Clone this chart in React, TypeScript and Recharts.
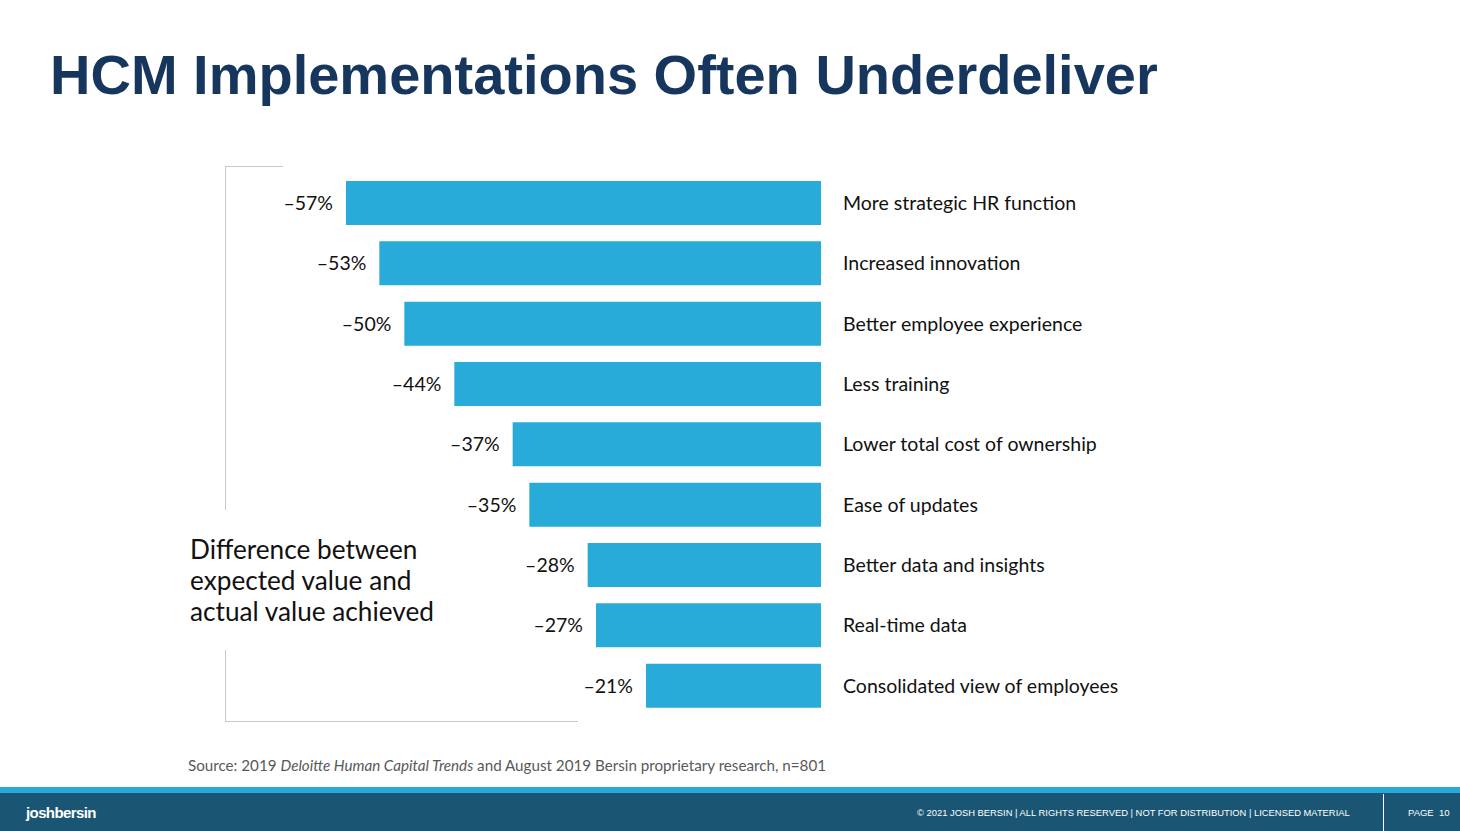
// @ts-nocheck
import { BarChart, Bar, XAxis, YAxis, LabelList } from 'recharts';

const categories = [
  'More strategic HR function',
  'Increased innovation',
  'Better employee experience',
  'Less training',
  'Lower total cost of ownership',
  'Ease of updates',
  'Better data and insights',
  'Real-time data',
  'Consolidated view of employees',
];
const gaps = [-57, -53, -50, -44, -37, -35, -28, -27, -21];

const data = categories.map((name, i) => ({ name, gap: gaps[i] }));

const BAR = '#29abd9';
const FONT = 'Lato, "Open Sans", sans-serif';

function ValueLabel(props: any) {
  const { x, y, width, height, value } = props;
  const left = Math.min(x, x + width);
  return (
    <text x={left - 13} y={y + height / 2} dy={7} textAnchor="end" fontSize={19.5} fontFamily={FONT} fill="#111">
      {'\u2013' + Math.abs(value) + '%'}
    </text>
  );
}

function NameLabel(props: any) {
  const { x, y, width, height, value } = props;
  const right = Math.max(x, x + width);
  return (
    <text x={right + 22} y={y + height / 2} dy={7} textAnchor="start" fontSize={19.5} fontFamily={FONT} fill="#111">
      {value}
    </text>
  );
}

export default function App() {
  return (
    <div style={{ position: 'absolute', left: 0, top: 0, width: 1460, height: 831, background: '#fff', overflow: 'hidden', fontFamily: FONT }}>
      <div style={{ position: 'absolute', left: 50, top: 47, fontFamily: '"Liberation Sans", Arial, sans-serif', fontWeight: 700, fontSize: 56, lineHeight: '56px', color: '#17365d', whiteSpace: 'nowrap' }}>
        HCM Implementations Often Underdeliver
      </div>

      {/* bracket */}
      <div style={{ position: 'absolute', left: 225, top: 166, width: 58, height: 1, background: '#c8c8c8' }} />
      <div style={{ position: 'absolute', left: 225, top: 166, width: 1, height: 344, background: '#c8c8c8' }} />
      <div style={{ position: 'absolute', left: 225, top: 650, width: 1, height: 72, background: '#c8c8c8' }} />
      <div style={{ position: 'absolute', left: 225, top: 721, width: 353, height: 1, background: '#c8c8c8' }} />

      <div style={{ position: 'absolute', left: 190, top: 534, fontSize: 26.2, lineHeight: '31px', color: '#111' }}>
        Difference between<br />expected value and<br />actual value achieved
      </div>

      <div style={{ position: 'absolute', left: 0, top: 0 }}>
        <BarChart width={1460} height={760} data={data} layout="vertical" margin={{ top: 173, right: 639, bottom: 44, left: 346 }}>
          <XAxis type="number" domain={[-57, 0]} hide />
          <YAxis type="category" dataKey="name" hide />
          <Bar dataKey="gap" fill={BAR} barSize={44} isAnimationActive={false}>
            <LabelList dataKey="gap" content={ValueLabel} />
            <LabelList dataKey="name" content={NameLabel} />
          </Bar>
        </BarChart>
      </div>

      <div style={{ position: 'absolute', left: 188, top: 755, fontSize: 15.2, lineHeight: '20px', color: '#595959', whiteSpace: 'nowrap' }}>
        Source: 2019 <i>Deloitte Human Capital Trends</i> and August 2019 Bersin proprietary research, n=801
      </div>

      {/* footer */}
      <div style={{ position: 'absolute', left: 0, top: 787, width: 1460, height: 6, background: '#29a9d9' }} />
      <div style={{ position: 'absolute', left: 0, top: 793, width: 1460, height: 38, background: '#1a5674' }} />
      <div style={{ position: 'absolute', left: 26, top: 804, fontFamily: '"Liberation Sans", Arial, sans-serif', fontWeight: 700, fontSize: 15, lineHeight: '18px', letterSpacing: -0.6, color: '#fff' }}>
        joshbersin
      </div>
      <div style={{ position: 'absolute', left: 917, top: 807, fontFamily: '"Liberation Sans", Arial, sans-serif', fontSize: 9.4, lineHeight: '12px', color: '#fff', whiteSpace: 'nowrap' }}>
        © 2021 JOSH BERSIN | ALL RIGHTS RESERVED | NOT FOR DISTRIBUTION | LICENSED MATERIAL
      </div>
      <div style={{ position: 'absolute', left: 1383, top: 794, width: 1, height: 37, background: '#fff' }} />
      <div style={{ position: 'absolute', left: 1408, top: 807, fontFamily: '"Liberation Sans", Arial, sans-serif', fontSize: 9.5, lineHeight: '12px', color: '#fff', whiteSpace: 'nowrap' }}>
        PAGE&nbsp;&nbsp;10
      </div>
    </div>
  );
}
